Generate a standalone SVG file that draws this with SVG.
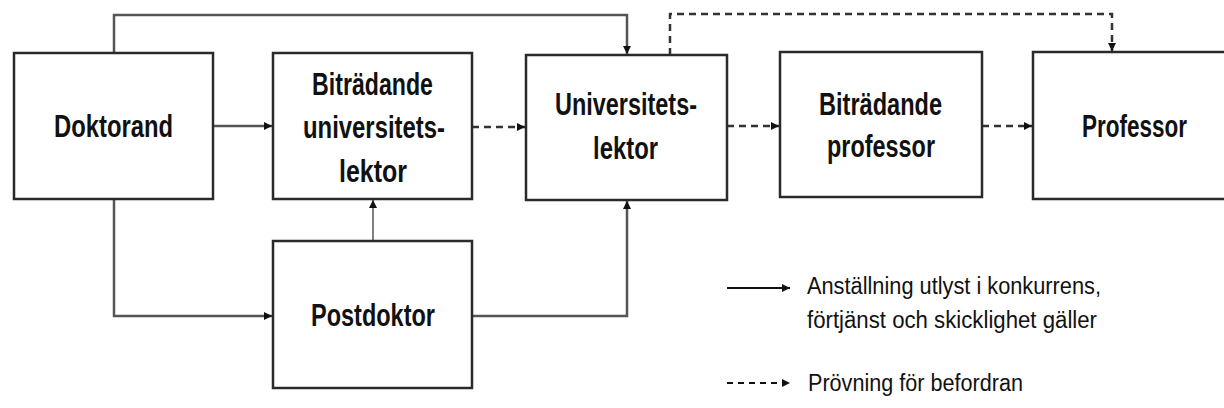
<svg xmlns="http://www.w3.org/2000/svg" width="1224" height="408" viewBox="0 0 1224 408">
<style>
.box{fill:#fff;stroke:#2a2a2a;stroke-width:2.5}
.lbl{font-family:"Liberation Sans",Arial,sans-serif;font-weight:bold;font-size:31px;fill:#111}
.leg{font-family:"Liberation Sans",Arial,sans-serif;font-size:23px;fill:#111}
.c{fill:none;stroke:#555;stroke-width:2.5}
.d{fill:none;stroke:#333;stroke-width:2.5;stroke-dasharray:7 5}
</style>
<defs>
<marker id="ah" markerUnits="userSpaceOnUse" markerWidth="9" markerHeight="9" refX="8" refY="4.5" orient="auto">
<path d="M0,0.5 L8,4.5 L0,8.5 Z" fill="#111"/>
</marker>
</defs>
<rect width="1224" height="408" fill="#fff"/>
<g id="connectors">
<polyline class="c" points="114,53 114,15 627,15 627,54" marker-end="url(#ah)"/>
<line class="c" x1="213" y1="126" x2="272" y2="126" marker-end="url(#ah)"/>
<polyline class="c" points="114,199 114,316 272,316" marker-end="url(#ah)"/>
<line class="c" x1="373" y1="240" x2="373" y2="200" style="stroke-width:1.5" marker-end="url(#ah)"/>
<polyline class="c" points="472,316 627,316 627,201" marker-end="url(#ah)"/>
<line class="d" x1="472" y1="127" x2="525" y2="127" marker-end="url(#ah)"/>
<line class="d" x1="727" y1="126" x2="779" y2="126" marker-end="url(#ah)"/>
<line class="d" x1="982" y1="126" x2="1032" y2="126" marker-end="url(#ah)"/>
<polyline class="d" points="670,55 670,14 1112,14 1112,51" marker-end="url(#ah)"/>
</g>
<g id="doktorand">
<rect class="box" x="14" y="53" width="199" height="146"/>
<text class="lbl" x="54" y="137" textLength="119" lengthAdjust="spacingAndGlyphs">Doktorand</text>
</g>
<g id="bitradande-universitetslektor">
<rect class="box" x="273" y="53" width="199" height="146"/>
<text class="lbl" x="312" y="95" textLength="121" lengthAdjust="spacingAndGlyphs">Biträdande</text>
<text class="lbl" x="303" y="138" textLength="142" lengthAdjust="spacingAndGlyphs">universitets-</text>
<text class="lbl" x="339" y="182" textLength="68" lengthAdjust="spacingAndGlyphs">lektor</text>
</g>
<g id="universitetslektor">
<rect class="box" x="526" y="55" width="201" height="145"/>
<text class="lbl" x="555" y="115" textLength="142" lengthAdjust="spacingAndGlyphs">Universitets-</text>
<text class="lbl" x="593" y="159" textLength="65" lengthAdjust="spacingAndGlyphs">lektor</text>
</g>
<g id="bitradande-professor">
<rect class="box" x="780" y="52" width="202" height="145"/>
<text class="lbl" x="819" y="115" textLength="123" lengthAdjust="spacingAndGlyphs">Biträdande</text>
<text class="lbl" x="827" y="157" textLength="108" lengthAdjust="spacingAndGlyphs">professor</text>
</g>
<g id="professor">
<path class="box" d="M1224,52 H1033 V199 H1224"/>
<text class="lbl" x="1082" y="137" textLength="105" lengthAdjust="spacingAndGlyphs">Professor</text>
</g>
<g id="postdoktor">
<rect class="box" x="273" y="241" width="199" height="147"/>
<text class="lbl" x="311" y="326" textLength="124" lengthAdjust="spacingAndGlyphs">Postdoktor</text>
</g>
<g id="legend">
<line x1="727" y1="288" x2="790" y2="288" stroke="#111" stroke-width="2" marker-end="url(#ah)"/>
<text class="leg" x="807" y="294" textLength="294" lengthAdjust="spacingAndGlyphs">Anställning utlyst i konkurrens,</text>
<text class="leg" x="807" y="328" textLength="290" lengthAdjust="spacingAndGlyphs">förtjänst och skicklighet gäller</text>
<line x1="727" y1="383" x2="790" y2="383" stroke="#111" stroke-width="2" stroke-dasharray="6 5" marker-end="url(#ah)"/>
<text class="leg" x="808" y="391" textLength="215" lengthAdjust="spacingAndGlyphs">Prövning för befordran</text>
</g>
</svg>
